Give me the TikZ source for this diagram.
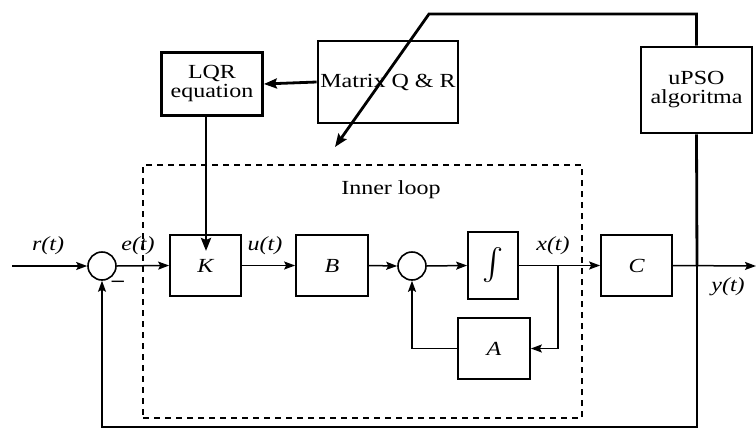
\documentclass[tikz,border=0pt]{standalone}
\usepackage{fontspec}
\usepackage{graphicx}
\setmainfont{Liberation Serif}[FakeStretch=1.2]
\usetikzlibrary{arrows.meta}
\begin{document}
\begin{tikzpicture}[x=1pt,y=-1pt,
  every node/.style={font=\fontsize{20}{22}\selectfont},
  blk/.style={draw,line width=1.7pt,minimum width=#1,inner sep=0pt},
  thickblk/.style={draw,line width=2.8pt,inner sep=0pt,align=center},
  sumc/.style={draw,circle,line width=1.6pt,minimum size=28pt,inner sep=0pt},
  conn/.style={line width=1.5pt,-{Stealth[length=11pt,width=8pt,inset=2pt]}},
  line/.style={line width=1.5pt},
  thk/.style={line width=2.8pt},
  thkarr/.style={line width=2.8pt,-{Stealth[length=13pt,width=10pt,inset=2pt]}},
  lbl/.style={inner sep=0pt}]
\useasboundingbox (0,0) rectangle (756,429);
% upper blocks
\node[thickblk,minimum width=101pt,minimum height=63pt] (lqr) at (212,84) {LQR\\[-3pt]equation};
\node[thickblk,minimum width=140pt,minimum height=82pt] (mat) at (388,82) {Matrix Q \& R};
\node[thickblk,minimum width=111pt,minimum height=86pt] (upso) at (696.5,90) {uPSO\\[-3pt]algoritma};
% inner loop frame
\node[draw,line width=1.2pt,dash pattern=on 6pt off 5pt,minimum width=439pt,minimum height=253pt,inner sep=0pt] (frame) at (362.5,291.5) {};
\node[lbl] (inner) at (391,190) {Inner loop};
% lower blocks
\node[sumc] (s1) at (102,266) {};
\node[blk=71pt,minimum height=61pt] (K) at (205.5,265.5) {\itshape K};
\node[blk=72pt,minimum height=61pt] (B) at (332,265.5) {\itshape B};
\node[sumc] (s2) at (412,266) {};
\node[blk=50pt,minimum height=67pt] (int) at (493,265.5) {\resizebox{!}{34pt}{$\int$}};
\node[blk=72pt,minimum height=61pt] (A) at (494,348.5) {\itshape A};
\node[blk=71pt,minimum height=61pt] (C) at (636.5,265.5) {\itshape C};
% labels
\node[lbl] (rl) at (48,246) {\itshape r(t)};
\node[lbl] (el) at (138,246) {\itshape e(t)};
\node[lbl] (ul) at (265,246) {\itshape u(t)};
\node[lbl] (xl) at (553,246) {\itshape x(t)};
\node[lbl] (yl) at (728,287) {\itshape y(t)};
\node[lbl] (minus) at (118,284) {\textbf{--}};
% coordinates
\coordinate (in) at (12,266);
\coordinate (out) at (756,266);
\coordinate (br) at (558,266);
\coordinate (jn) at (697,266);
\coordinate (bl) at (697,427);
\coordinate (kin) at (206,251);
\coordinate (top) at (429,14);
\coordinate (dtip) at (335,147);
% connectors
\draw[conn] (in) -- (s1.west);
\draw[conn] (s1.east) -- (K.west);
\draw[conn] (K.east) -- (B.west);
\draw[conn] (B.east) -- (s2.west);
\draw[conn] (s2.east) -- (int.west);
\draw[conn] (int.east) -- (C.west);
\draw[conn] (br) |- (A.east);
\draw[conn] (A.west) -| (s2.south);
\draw[conn] (C.east) -- (out);
\draw[line width=1.2pt,-{Stealth[length=11pt,width=8pt,inset=2pt]}] (jn) -- (bl) -| (s1.south);
\draw[thk] (upso.south) -- (jn);
\draw[thkarr] (upso.north) |- (top) -- (dtip);
\draw[thkarr] (mat.west) -- (lqr.east);
\draw[thkarr] (kin |- lqr.south) -- (kin);
\end{tikzpicture}
\end{document}
